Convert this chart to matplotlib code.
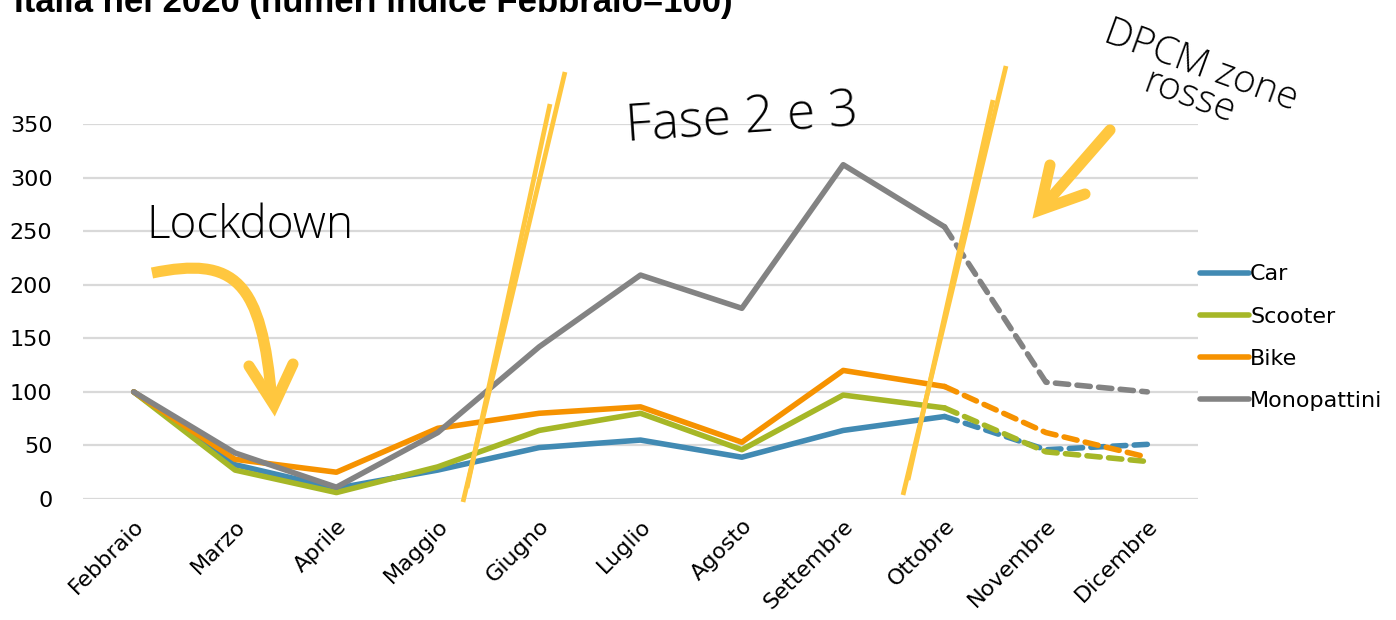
import matplotlib
matplotlib.use("Agg")
from matplotlib import pyplot as plt
from matplotlib.path import Path
from matplotlib.patches import PathPatch
import numpy as np

mesi = ['Febbraio', 'Marzo', 'Aprile', 'Maggio', 'Giugno', 'Luglio',
        'Agosto', 'Settembre', 'Ottobre', 'Novembre', 'Dicembre']
car = [100, 32, 10, 27, 48, 55, 39, 64, 77, 46, 51]
scooter = [100, 27, 6, 30, 64, 80, 46, 97, 85, 44, 35]
bike = [100, 37, 25, 66, 80, 86, 53, 120, 105, 62, 39]
monopattini = [100, 43, 11, 62, 142, 209, 178, 312, 254, 109, 100]
n_solid = 9  # Febbraio..Ottobre solid, then dashed

serie = [('Car', car, '#418AB3'), ('Scooter', scooter, '#A6B727'),
         ('Bike', bike, '#F69200'), ('Monopattini', monopattini, '#838383')]

W, H = 1396, 620
fig = plt.figure(figsize=(W / 100, H / 100), dpi=100)
ax = fig.add_axes([83 / W, 1 - 499 / H, (1198 - 83) / W, (499 - 124) / H])

x = np.arange(len(mesi))
for nome, vals, col in serie:
    ax.plot(x[:n_solid], vals[:n_solid], color=col, lw=4, solid_capstyle='round',
            solid_joinstyle='round', label=nome)
    ax.plot(x[n_solid - 1:], vals[n_solid - 1:], color=col, lw=4, ls=(0, (2.4, 1.5)),
            dash_capstyle='round')

ax.set_xlim(-0.5, len(mesi) - 0.5)
ax.set_ylim(0, 350)
ax.set_yticks(range(0, 351, 50))
ax.yaxis.grid(True, color='#D9D9D9', lw=1.6)
ax.set_axisbelow(True)
for s in ax.spines.values():
    s.set_visible(False)
ax.tick_params(length=0)
ax.tick_params(axis='y', labelsize=16, pad=22)
ax.set_xticks(x)
ax.set_xticklabels(mesi, rotation=45, ha='right', rotation_mode='anchor', fontsize=16)
ax.tick_params(axis='x', pad=12)

# legend (only solid handles)
h, l = ax.get_legend_handles_labels()
leg = ax.legend(h, l, loc='center left', bbox_to_anchor=(1.002, 0.43), frameon=False,
                fontsize=16, handlelength=2.2, handletextpad=0.05, labelspacing=1.0,
                borderaxespad=0, borderpad=0)

# title, cut at the top edge as in the source image
fig.text(14 / W, 1 - 12 / H, 'Italia nel 2020 (numeri indice Febbraio=100)',
         fontsize=25, fontweight='bold', family='Liberation Sans', va='baseline')


def P(px, py):
    return (px / W, 1 - py / H)


giallo = '#FFC73F'
tf = fig.transFigure

# yellow phase lines
for a, b, lw in [((463, 502), (565, 72), 3.4), ((467, 488), (550, 104), 3.4),
                 ((903, 495), (1006, 66), 3.4), ((908, 480), (993, 100), 3.4)]:
    fig.add_artist(plt.Line2D([P(*a)[0], P(*b)[0]], [P(*a)[1], P(*b)[1]],
                              transform=tf, color=giallo, lw=lw, solid_capstyle='butt'))

# lockdown arrow (curved)
verts = [P(152, 273), P(235, 256), P(262, 280), P(272, 402)]
codes = [Path.MOVETO, Path.CURVE4, Path.CURVE4, Path.CURVE4]
fig.add_artist(PathPatch(Path(verts, codes), transform=tf, fill=False,
                         ec=giallo, lw=8, capstyle='butt'))
hx, hy = zip(P(249, 366), P(274, 405), P(293, 364))
fig.add_artist(plt.Line2D(hx, hy, transform=tf, color=giallo, lw=8,
                          solid_capstyle='round', solid_joinstyle='miter'))

# DPCM arrow
fr = [P(1110, 130), P(1042, 208)]
fig.add_artist(plt.Line2D([fr[0][0], fr[1][0]], [fr[0][1], fr[1][1]], transform=tf,
                          color=giallo, lw=8, solid_capstyle='round'))
hx, hy = zip(P(1050, 165), P(1040, 210), P(1085, 194))
fig.add_artist(plt.Line2D(hx, hy, transform=tf, color=giallo, lw=8,
                          solid_capstyle='round', solid_joinstyle='miter'))

# handwritten-like notes
mano = dict(family='Open Sans', fontweight='light', color='black')
fig.text(*P(250, 226), 'Lockdown', fontsize=33, ha='center', va='center', **mano)
fig.text(*P(742, 120), 'Fase 2 e 3', fontsize=37, ha='center', va='center', rotation=4, **mano)
fig.text(*P(1195, 82), 'DPCM zone\nrosse', fontsize=28, ha='center', va='center',
         rotation=-20, linespacing=0.85, **mano)

fig.savefig('out.png', dpi=100)
